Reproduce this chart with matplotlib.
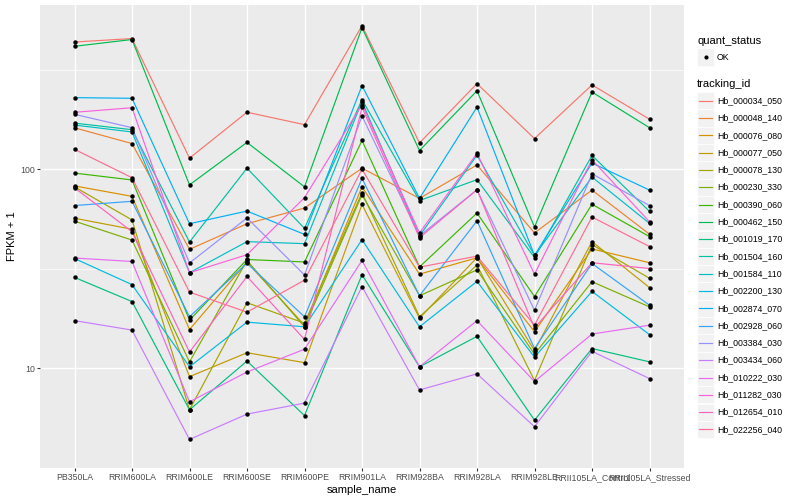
import matplotlib
matplotlib.use("Agg")
import matplotlib.pyplot as plt
from matplotlib.lines import Line2D
from matplotlib.patches import Rectangle
import numpy as np

plt.rcParams['font.family'] = ['Liberation Sans', 'DejaVu Sans']

samples = ["PB350LA", "RRIM600LA", "RRIM600LE", "RRIM600SE", "RRIM600PE",
           "RRIM901LA", "RRIM928BA", "RRIM928LA", "RRIM928LE",
           "RRII105LA_Control", "RRII105LA_Stressed"]

tracking_ids = ["Hb_000034_050", "Hb_000048_140", "Hb_000076_080", "Hb_000077_050",
                "Hb_000078_130", "Hb_000230_330", "Hb_000390_060", "Hb_000462_150",
                "Hb_001019_170", "Hb_001504_160", "Hb_001584_110", "Hb_002200_130",
                "Hb_002874_070", "Hb_002928_060", "Hb_003384_030", "Hb_003434_060",
                "Hb_010222_030", "Hb_011282_030", "Hb_012654_010", "Hb_022256_040"]

# FPKM + 1 per sample (order of `samples`)
hb_000034_050 = [437, 455, 114, 194, 168, 528, 136, 270, 143, 266, 179]
hb_000048_140 = [162, 135, 39.7, 53.4, 64.0, 101.5, 71.6, 105.4, 48.0, 78.8, 47.3]
hb_000076_080 = [82.7, 73.3, 15.7, 34.2, 16.5, 81.8, 29.8, 36.0, 15.3, 39.9, 34.0]
hb_000077_050 = [56.9, 50.1, 9.1, 12.0, 10.7, 66.7, 17.9, 36.1, 12.3, 43.4, 25.5]
hb_000078_130 = [81.8, 55.8, 6.2, 21.4, 16.9, 76.4, 18.2, 33.1, 8.7, 41.9, 28.4]
hb_000230_330 = [55.0, 44.2, 10.8, 34.9, 16.2, 74.7, 23.2, 31.3, 11.8, 27.3, 20.4]
hb_000390_060 = [95.9, 88.6, 17.5, 35.3, 34.3, 139.9, 32.4, 60.4, 23.0, 66.9, 46.0]
hb_000462_150 = [416, 450, 83.7, 136.8, 81.8, 516, 124.5, 248.6, 51.4, 245.0, 162.2]
hb_001019_170 = [28.7, 21.7, 6.2, 10.9, 5.8, 29.6, 10.2, 14.5, 5.5, 12.6, 10.8]
hb_001504_160 = [171.0, 158.5, 43.2, 101.5, 50.6, 224.5, 69.8, 88.9, 36.1, 117.6, 61.6]
hb_001584_110 = [167.2, 154.4, 30.3, 43.4, 42.4, 219.5, 46.4, 118.0, 37.0, 91.6, 53.6]
hb_002200_130 = [35.7, 26.4, 10.2, 17.1, 16.2, 44.4, 16.2, 27.4, 11.4, 24.4, 14.8]
hb_002874_070 = [229.7, 227.9, 53.4, 61.8, 47.2, 264.0, 71.6, 205.7, 37.0, 107.8, 78.8]
hb_002928_060 = [65.9, 69.2, 18.2, 33.8, 18.2, 90.3, 23.2, 55.2, 12.6, 33.7, 20.8]
hb_003384_030 = [189.4, 162.2, 33.9, 57.1, 29.5, 185.8, 46.4, 79.1, 19.6, 95.1, 65.9]
hb_003434_060 = [17.4, 15.6, 4.4, 5.9, 6.7, 25.8, 7.8, 9.4, 5.1, 12.2, 8.9]
hb_010222_030 = [35.9, 34.5, 6.8, 9.6, 12.5, 34.9, 10.2, 17.4, 8.6, 14.9, 16.5]
hb_011282_030 = [193.8, 204.3, 30.3, 37.3, 72.2, 212.1, 48.0, 120.7, 29.8, 112.0, 54.6]
hb_012654_010 = [80.9, 48.7, 12.1, 29.0, 14.0, 205.0, 45.4, 79.1, 16.0, 34.0, 31.8]
hb_022256_040 = [126.3, 90.9, 24.2, 19.2, 27.8, 100.3, 32.3, 36.7, 16.5, 57.7, 41.0]

series = [hb_000034_050, hb_000048_140, hb_000076_080, hb_000077_050, hb_000078_130,
          hb_000230_330, hb_000390_060, hb_000462_150, hb_001019_170, hb_001504_160,
          hb_001584_110, hb_002200_130, hb_002874_070, hb_002928_060, hb_003384_030,
          hb_003434_060, hb_010222_030, hb_011282_030, hb_012654_010, hb_022256_040]

colors = ["#F8766D", "#EA8331", "#D89000", "#C09B00", "#A3A500", "#7CAE00", "#39B600",
          "#00BB4E", "#00BF7D", "#00C1A3", "#00BFC4", "#00BAE0", "#00B0F6", "#35A2FF",
          "#9590FF", "#C77CFF", "#E76BF3", "#FA62DB", "#FF62BC", "#FF6C91"]

W, H = 800, 500
fig = plt.figure(figsize=(W / 100, H / 100), dpi=100)
fig.patch.set_facecolor("white")

pl, pr, pt, pb = 40, 684, 5, 468
ax = fig.add_axes([pl / W, 1 - pb / H, (pr - pl) / W, (pb - pt) / H])
ax.set_facecolor("#EBEBEB")
for s in ax.spines.values():
    s.set_visible(False)

x = np.arange(len(samples))
for vals, c in zip(series, colors):
    ax.plot(x, vals, color=c, lw=0.85, zorder=3, solid_capstyle="butt")
for vals in series:
    ax.plot(x, vals, linestyle="none", marker="o", ms=3.2, color="black",
            markeredgewidth=0, zorder=4)

ax.set_yscale("log")
allv = np.log10(np.concatenate([np.asarray(v, float) for v in series]))
lo, hi = allv.min(), allv.max()
pad = (hi - lo) * 0.05
ax.set_ylim(10 ** (lo - pad), 10 ** (hi + pad))
ax.set_xlim(-0.6, len(samples) - 1 + 0.6)

ax.set_yticks([10, 100])
ax.set_yticklabels(["10", "100"])
ax.set_yticks([10 ** 0.5, 10 ** 1.5, 10 ** 2.5], minor=True)
ax.yaxis.set_minor_formatter(matplotlib.ticker.NullFormatter())
ax.set_xticks(x)
ax.set_xticklabels(samples)

ax.grid(True, which="major", color="white", lw=1.0, zorder=0)
ax.grid(True, which="minor", axis="y", color="white", lw=0.5, zorder=0)
ax.set_axisbelow(True)
ax.tick_params(which="major", length=2.3, width=0.8, color="#333333",
               labelcolor="#4D4D4D", labelsize=6.3, pad=1.5)
ax.tick_params(which="minor", length=0)

ax.set_xlabel("sample_name", fontsize=8, color="black", labelpad=2)
ax.set_ylabel("FPKM + 1", fontsize=8, color="black", labelpad=2)


def fx(px):
    return px / W


def fy(py):
    return 1 - py / H


# legend: quant_status
fig.text(fx(697), fy(40.5), "quant_status", fontsize=8, va="center", ha="left")
fig.add_artist(Rectangle((fx(697), fy(65.5)), 17 / W, 17 / H,
                         transform=fig.transFigure, facecolor="#F2F2F2",
                         edgecolor="white", lw=0.5))
fig.add_artist(Line2D([fx(705.5)], [fy(57)], transform=fig.transFigure,
                      marker="o", ms=3.0, color="black", markeredgewidth=0,
                      linestyle="none"))
fig.text(fx(717), fy(57), "OK", fontsize=6.3, va="center", ha="left")

# legend: tracking_id
fig.text(fx(697), fy(84.3), "tracking_id", fontsize=8, va="center", ha="left")
for i, (tid, c) in enumerate(zip(tracking_ids, colors)):
    cy = 100.7 + 17.3 * i
    fig.add_artist(Rectangle((fx(697), fy(cy + 8.6)), 17 / W, 17.2 / H,
                             transform=fig.transFigure, facecolor="#F2F2F2",
                             edgecolor="white", lw=0.5))
    fig.add_artist(Line2D([fx(698.7), fx(712.3)], [fy(cy), fy(cy)],
                          transform=fig.transFigure, color=c, lw=0.85))
    fig.text(fx(717), fy(cy), tid, fontsize=6.3, va="center", ha="left")

fig.savefig("out.png", dpi=100, facecolor="white")
